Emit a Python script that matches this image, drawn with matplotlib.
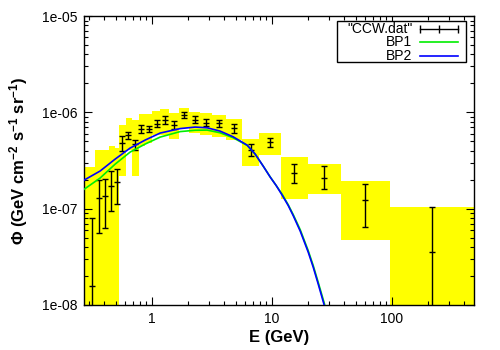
import matplotlib
matplotlib.use("Agg")
import matplotlib.pyplot as plt
from matplotlib.patches import Rectangle

plt.rcParams["font.family"] = ["Liberation Sans", "DejaVu Sans"]
plt.rcParams["mathtext.fontset"] = "custom"
plt.rcParams["mathtext.rm"] = "Liberation Sans:bold"
plt.rcParams["mathtext.it"] = "Liberation Sans:bold"
plt.rcParams["mathtext.bf"] = "Liberation Sans:bold"

# data points ("CCW.dat"): energy (GeV), flux, stat error bounds
energy = [0.320, 0.366, 0.410, 0.460, 0.517, 0.565, 0.638, 0.726, 0.819, 0.946,
          1.107, 1.291, 1.52, 1.853, 2.275, 2.84, 3.66, 4.81, 6.67, 9.73,
          15.4, 27.4, 60.4, 216.0]
flux = [1.57e-8, 1.28e-7, 1.36e-7, 1.71e-7, 1.88e-7, 4.86e-7, 5.81e-7, 4.69e-7, 6.79e-7, 6.74e-7,
        7.60e-7, 8.28e-7, 7.41e-7, 9.31e-7, 8.40e-7, 7.83e-7, 7.69e-7, 6.82e-7, 4.06e-7, 4.88e-7,
        2.36e-7, 2.10e-7, 1.22e-7, 3.59e-8]
flux_hi = [8.09e-8, 1.97e-7, 2.04e-7, 2.44e-7, 2.60e-7, 5.67e-7, 6.32e-7, 5.22e-7, 7.47e-7, 7.26e-7,
           8.26e-7, 9.09e-7, 8.09e-7, 1.00e-6, 9.12e-7, 8.52e-7, 8.32e-7, 7.62e-7, 4.69e-7, 5.37e-7,
           2.88e-7, 2.75e-7, 1.79e-7, 1.03e-7]
flux_lo = [1e-9, 5.54e-8, 6.29e-8, 9.38e-8, 1.12e-7, 4.01e-7, 5.28e-7, 4.11e-7, 6.14e-7, 6.24e-7,
           6.99e-7, 7.56e-7, 6.76e-7, 8.67e-7, 7.70e-7, 7.21e-7, 6.99e-7, 6.14e-7, 3.54e-7, 4.36e-7,
           1.83e-7, 1.59e-7, 6.40e-8, 1e-9]

# systematic boxes (yellow)
box_e_lo = [0.2724, 0.3366, 0.385, 0.4404, 0.4942, 0.5337, 0.6105, 0.6851, 0.7836, 0.8794,
            1.0, 1.173, 1.394, 1.689, 2.047, 2.528, 3.184, 4.166, 5.61, 7.853,
            11.98, 20.0, 37.9, 96.2]
box_e_hi = [0.3366, 0.385, 0.4404, 0.4942, 0.5337, 0.6105, 0.6851, 0.7836, 0.8794, 1.0,
            1.173, 1.394, 1.689, 2.047, 2.528, 3.184, 4.166, 5.61, 7.853, 11.98,
            20.0, 37.9, 96.2, 500.0]
box_f_hi = [2.72e-7, 4.06e-7, 4.06e-7, 4.47e-7, 4.26e-7, 7.38e-7, 8.72e-7, 8.32e-7, 9.60e-7, 9.60e-7,
            1.03e-6, 1.08e-6, 9.83e-7, 1.11e-6, 1.01e-6, 9.83e-7, 9.38e-7, 8.52e-7, 5.28e-7, 6.10e-7,
            3.46e-7, 2.90e-7, 1.94e-7, 1.05e-7]
box_f_lo = [1e-9, 1e-9, 1e-9, 1e-9, 1e-9, 2.18e-7, 4.06e-7, 2.18e-7, 4.47e-7, 4.80e-7,
            5.81e-7, 5.81e-7, 5.28e-7, 6.87e-7, 6.10e-7, 5.81e-7, 5.54e-7, 5.16e-7, 2.77e-7, 3.60e-7,
            1.25e-7, 1.42e-7, 4.72e-8, 1e-9]

# model curves
model_e = [0.2724, 0.3704, 0.4942, 0.6592, 0.8794, 1.173, 1.722, 2.297, 2.892, 3.712,
           4.764, 6.235, 7.269, 8.478, 9.697, 10.88, 12.21, 13.70, 15.08, 17.26,
           20.12, 22.15, 24.38, 27.35, 30.7]
bp1 = [1.59e-7, 2.08e-7, 2.90e-7, 3.87e-7, 4.69e-7, 5.54e-7, 6.32e-7, 6.52e-7, 6.55e-7, 6.14e-7,
       5.45e-7, 4.54e-7, 3.69e-7, 2.77e-7, 2.14e-7, 1.74e-7, 1.41e-7, 1.10e-7, 8.70e-8, 6.05e-8,
       3.67e-8, 2.57e-8, 1.72e-8, 1.05e-8, 6.1e-9]
bp2 = [1.98e-7, 2.46e-7, 3.27e-7, 4.26e-7, 5.16e-7, 6.10e-7, 6.79e-7, 7.04e-7, 6.92e-7, 6.39e-7,
       5.58e-7, 4.57e-7, 3.69e-7, 2.77e-7, 2.13e-7, 1.74e-7, 1.38e-7, 1.08e-7, 8.48e-8, 5.85e-8,
       3.54e-8, 2.47e-8, 1.65e-8, 9.98e-9, 5.75e-9]

legend_labels = ['"CCW.dat"', "BP1", "BP2"]
green = "#00ee00"
blue = "#0000ff"

fig = plt.figure(figsize=(5, 3.5), dpi=100)
ax = fig.add_axes([0.168, 0.1286, 0.780, 0.8254])
ax.set_xscale("log")
ax.set_yscale("log")

widths = [hi - lo for lo, hi in zip(box_e_lo, box_e_hi)]
heights = [hi - lo for lo, hi in zip(box_f_lo, box_f_hi)]
ax.bar(box_e_lo, heights, width=widths, bottom=box_f_lo, align="edge",
       color="#ffff00", edgecolor="none", linewidth=0, zorder=1)

yerr = [[f - lo for f, lo in zip(flux, flux_lo)], [hi - f for f, hi in zip(flux, flux_hi)]]
ax.errorbar(energy, flux, yerr=yerr, fmt="none", ecolor="black", elinewidth=1.0,
            capsize=2.5, capthick=1.0, zorder=3)
ax.plot(energy, flux, linestyle="none", marker="_", markersize=5, markeredgewidth=1.0,
        color="black", zorder=3)

ax.plot(model_e, bp1, color=green, linewidth=1.2, zorder=4)
ax.plot(model_e, bp2, color=blue, linewidth=1.2, zorder=5)

ax.set_xlim(0.272, 485)
ax.set_ylim(1e-8, 1e-5)
ax.set_xticks([1, 10, 100])
ax.set_xticklabels(["1", "10", "100"])
ax.set_yticks([1e-8, 1e-7, 1e-6, 1e-5])
ax.set_yticklabels(["1e-08", "1e-07", "1e-06", "1e-05"])
ax.tick_params(which="both", direction="in", top=True, right=True, labelsize=10, colors="black")
ax.tick_params(which="major", length=6, width=0.8, pad=5)
ax.tick_params(which="minor", length=3, width=0.8)
for sp in ax.spines.values():
    sp.set_linewidth(1.0)

ax.set_xlabel("E (GeV)", fontsize=12, fontweight="bold", labelpad=3)
ax.set_ylabel("\u03a6 (GeV cm$^{-2}$ s$^{-1}$ sr$^{-1}$)", fontsize=12, fontweight="bold", labelpad=8)

# gnuplot-style key: labels right-aligned, sample to the right
tr = ax.transAxes
ax.add_patch(Rectangle((0.6487, 0.8408), 0.3308, 0.1409, transform=tr, facecolor="white",
                       edgecolor="black", linewidth=1.0, zorder=6, clip_on=False))
rows = [0.9567, 0.9100, 0.8633]
for label, yy in zip(legend_labels, rows):
    ax.text(0.8418, yy, label, transform=tr, ha="right", va="center", fontsize=10, zorder=7)
ax.plot([0.8623, 0.9110, 0.9597], [rows[0]] * 3, transform=tr, color="black", linewidth=1.0,
        marker="|", markersize=6, markeredgewidth=1.0, zorder=7, clip_on=False)
ax.plot([0.8623, 0.9597], [rows[1]] * 2, transform=tr, color=green, linewidth=1.2, zorder=7, clip_on=False)
ax.plot([0.8623, 0.9597], [rows[2]] * 2, transform=tr, color=blue, linewidth=1.2, zorder=7, clip_on=False)

fig.savefig("out.png", dpi=100)
